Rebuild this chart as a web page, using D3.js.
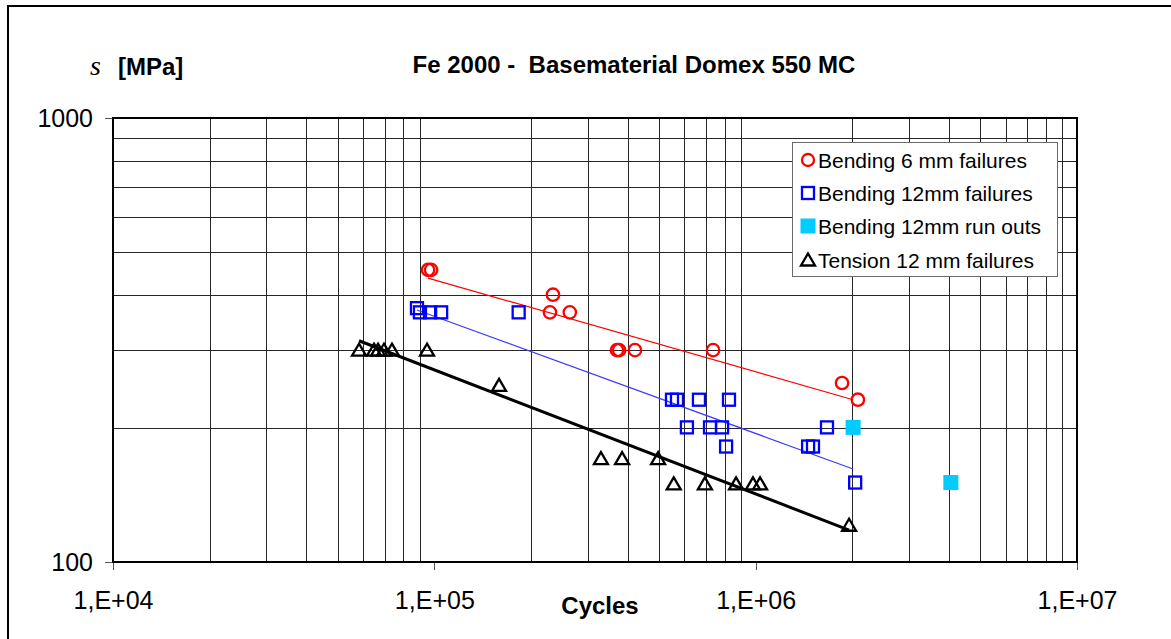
<!DOCTYPE html>
<head>
	<meta charset="utf-8">
	<title>Fe 2000 - Basematerial Domex 550 MC</title>
	<script src="https://d3js.org/d3.v7.min.js"></script>
	<style>
	body {
		margin: 0;
		background: #ffffff;
	}
	svg {
		font-family: "Liberation Sans", Arial, sans-serif;
	}
	.grid line {
		stroke: #262626;
		stroke-width: 1;
		shape-rendering: crispEdges;
	}
	.axis path {
		display: none;
	}
	.axis line {
		stroke: #555555;
		shape-rendering: crispEdges;
	}
	.axis text {
		font-size: 25px;
		fill: #000000;
	}
	.title {
		white-space: pre;
	}
	</style>
</head>
<body>
<div class="chartContainer"></div>
<script>
	// bending 6 mm failures: cycles / stress [MPa]
	var bend6N = [95600, 97700, 234000, 229000, 264000, 370000, 376000, 421000, 737000, 1857000, 2080000];
	var bend6S = [455, 455, 400, 365, 365, 300, 300, 300, 300, 253, 232];

	// bending 12 mm failures
	var bend12N = [88300, 90200, 97000, 105000, 183000, 549000, 569000, 666000, 826000, 611000, 721000, 786000, 1667000, 809000, 1456000, 1508000, 2040000];
	var bend12S = [373, 365, 365, 365, 365, 232, 232, 232, 232, 201, 201, 201, 201, 182, 182, 182, 151];

	// bending 12 mm run outs
	var runOutN = [2010000, 4050000];
	var runOutS = [201, 151];

	// tension 12 mm failures
	var tensionN = [58300, 64900, 66800, 69700, 73800, 94900, 159000, 330000, 384000, 497000, 556000, 695000, 869000, 981000, 1032000, 1953000];
	var tensionS = [300, 300, 300, 300, 300, 300, 250, 171, 171, 171, 150, 150, 150, 150, 150, 121];

	// trend lines (start / end)
	var trendBend6N = [95600, 2010000], trendBend6S = [436, 232];
	var trendBend12N = [88300, 2010000], trendBend12S = [369.5, 162];
	var trendTensionN = [58300, 1953000], trendTensionS = [315, 118];

	var xTicks = [1e4, 1e5, 1e6, 1e7];
	var xTickLabels = ["1,E+04", "1,E+05", "1,E+06", "1,E+07"];
	var yTicks = [100, 1000];
	var yTickLabels = ["100", "1000"];

	var legendLabels = ["Bending 6 mm failures", "Bending 12mm failures", "Bending 12mm run outs", "Tension 12 mm failures"];

	var totalWidth = 1171, totalHeight = 639;
	var plot = {left: 113, right: 1077, top: 118, bottom: 562};

	var svg = d3.select(".chartContainer").append("svg")
		.attr("width", totalWidth)
		.attr("height", totalHeight);

	// outer chart frame (runs off right / bottom edge)
	svg.append("rect")
		.attr("x", 8).attr("y", 6)
		.attr("width", totalWidth + 10).attr("height", totalHeight + 10)
		.attr("fill", "#ffffff")
		.attr("stroke", "#000000")
		.attr("stroke-width", 2);

	var x = d3.scaleLog().domain([1e4, 1e7]).range([plot.left, plot.right]);
	var y = d3.scaleLog().domain([100, 1000]).range([plot.bottom, plot.top]);

	// grid lines: every 1..9 x decade
	var xGrid = [];
	[1e4, 1e5, 1e6].forEach(function(d) {
		for (var k = 2; k <= 9; k++) xGrid.push(k * d);
	});
	var yGrid = [];
	for (var k = 2; k <= 9; k++) yGrid.push(k * 100);

	var grid = svg.append("g").attr("class", "grid");
	grid.selectAll(".vg").data(xGrid).enter().append("line")
		.attr("class", "vg")
		.attr("x1", function(d) { return Math.round(x(d)) + 0.5; })
		.attr("x2", function(d) { return Math.round(x(d)) + 0.5; })
		.attr("y1", plot.top).attr("y2", plot.bottom);
	grid.selectAll(".hg").data(yGrid).enter().append("line")
		.attr("class", "hg")
		.attr("y1", function(d) { return Math.round(y(d)) + 0.5; })
		.attr("y2", function(d) { return Math.round(y(d)) + 0.5; })
		.attr("x1", plot.left).attr("x2", plot.right);

	// axes
	var xAxis = d3.axisBottom(x)
		.tickValues(xTicks)
		.tickSize(8)
		.tickPadding(21)
		.tickFormat(function(d, i) { return xTickLabels[i]; });
	svg.append("g")
		.attr("class", "axis")
		.attr("transform", "translate(0," + plot.bottom + ")")
		.call(xAxis);

	var yAxis = d3.axisLeft(y)
		.tickValues(yTicks)
		.tickSize(8)
		.tickPadding(12)
		.tickFormat(function(d, i) { return yTickLabels[i]; });
	svg.append("g")
		.attr("class", "axis")
		.attr("transform", "translate(" + plot.left + ",0)")
		.call(yAxis);

	// plot frame
	svg.append("rect")
		.attr("x", plot.left).attr("y", plot.top)
		.attr("width", plot.right - plot.left)
		.attr("height", plot.bottom - plot.top)
		.attr("fill", "none")
		.attr("stroke", "#000000")
		.attr("stroke-width", 2);

	// trend lines
	var line = d3.line()
		.x(function(d) { return x(d[0]); })
		.y(function(d) { return y(d[1]); });
	var zip = function(a, b) { return a.map(function(v, i) { return [v, b[i]]; }); };

	svg.append("path").attr("d", line(zip(trendBend6N, trendBend6S)))
		.attr("fill", "none").attr("stroke", "#ff0000").attr("stroke-width", 1.2);
	svg.append("path").attr("d", line(zip(trendBend12N, trendBend12S)))
		.attr("fill", "none").attr("stroke", "#3b3bff").attr("stroke-width", 1.2);
	svg.append("path").attr("d", line(zip(trendTensionN, trendTensionS)))
		.attr("fill", "none").attr("stroke", "#000000").attr("stroke-width", 3);

	// marker shapes
	var triPath = "M0,-6.5L7,5.5L-7,5.5Z";
	var drawCircles = function(g, pts) {
		g.selectAll("circle").data(pts).enter().append("circle")
			.attr("cx", function(d) { return x(d[0]); })
			.attr("cy", function(d) { return y(d[1]); })
			.attr("r", 6.2)
			.attr("fill", "none").attr("stroke", "#ff0000").attr("stroke-width", 2.3);
	};
	var drawSquares = function(g, pts, fill, stroke, size) {
		g.selectAll("rect").data(pts).enter().append("rect")
			.attr("x", function(d) { return x(d[0]) - size / 2; })
			.attr("y", function(d) { return y(d[1]) - size / 2; })
			.attr("width", size).attr("height", size)
			.attr("fill", fill).attr("stroke", stroke).attr("stroke-width", stroke == "none" ? 0 : 2.3);
	};
	var drawTriangles = function(g, pts) {
		g.selectAll("path").data(pts).enter().append("path")
			.attr("d", triPath)
			.attr("transform", function(d) { return "translate(" + x(d[0]) + "," + y(d[1]) + ")"; })
			.attr("fill", "none").attr("stroke", "#000000").attr("stroke-width", 2.3)
			.attr("stroke-linejoin", "miter");
	};

	drawTriangles(svg.append("g"), zip(tensionN, tensionS));
	drawSquares(svg.append("g"), zip(bend12N, bend12S), "none", "#0000ff", 12);
	drawSquares(svg.append("g"), zip(runOutN, runOutS), "#00ccff", "none", 15);
	drawCircles(svg.append("g"), zip(bend6N, bend6S));

	// legend
	var legend = svg.append("g");
	legend.append("rect")
		.attr("x", 792.5).attr("y", 142.5)
		.attr("width", 265).attr("height", 134)
		.attr("fill", "#ffffff")
		.attr("stroke", "#6a6a6a").attr("stroke-width", 1);
	var ly = [160, 193, 226, 260];
	legend.append("circle").attr("cx", 808).attr("cy", ly[0]).attr("r", 6)
		.attr("fill", "none").attr("stroke", "#ff0000").attr("stroke-width", 2.3);
	legend.append("rect").attr("x", 802).attr("y", ly[1] - 6).attr("width", 12).attr("height", 12)
		.attr("fill", "none").attr("stroke", "#0000ff").attr("stroke-width", 2.3);
	legend.append("rect").attr("x", 800.5).attr("y", ly[2] - 7.5).attr("width", 15).attr("height", 15)
		.attr("fill", "#00ccff");
	legend.append("path").attr("d", triPath).attr("transform", "translate(808," + ly[3] + ")")
		.attr("fill", "none").attr("stroke", "#000000").attr("stroke-width", 2.3);
	legend.selectAll("text").data(legendLabels).enter().append("text")
		.attr("x", 818)
		.attr("y", function(d, i) { return ly[i]; })
		.attr("dy", "0.36em")
		.style("font-size", "21px")
		.text(function(d) { return d; });

	// titles
	svg.append("text")
		.attr("class", "title")
		.attr("x", 634).attr("y", 73)
		.attr("text-anchor", "middle")
		.style("font-size", "24px").style("font-weight", "bold")
		.text("Fe 2000 -  Basematerial Domex 550 MC");

	svg.append("text")
		.attr("x", 90).attr("y", 75)
		.style("font-family", "'Liberation Serif', serif")
		.style("font-style", "italic")
		.style("font-size", "28px")
		.text("s");
	svg.append("text")
		.attr("x", 118).attr("y", 75)
		.style("font-size", "24px").style("font-weight", "bold")
		.text("[MPa]");

	svg.append("text")
		.attr("x", 600).attr("y", 614)
		.attr("text-anchor", "middle")
		.style("font-size", "24px").style("font-weight", "bold")
		.text("Cycles");
</script>
</body>
</html>
